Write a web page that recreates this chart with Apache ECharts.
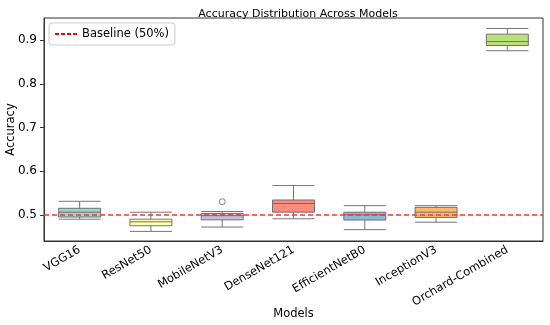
<!DOCTYPE html>
<html><head><meta charset="utf-8">
<script src="https://cdn.jsdelivr.net/npm/echarts@6/dist/echarts.min.js"></script>
<style>html,body{margin:0;padding:0;background:#fff}#c{width:550px;height:325px}</style>
</head><body><div id="c"></div>
<script>
const models = ['VGG16','ResNet50','MobileNetV3','DenseNet121','EfficientNetB0','InceptionV3','Orchard-Combined'];
// [lower whisker, Q1, median, Q3, upper whisker]
const vgg16 = [0.490, 0.495, 0.506, 0.515, 0.531];
const resnet50 = [0.462, 0.475, 0.484, 0.490, 0.506];
const mobilenetv3 = [0.472, 0.4885, 0.498, 0.503, 0.5076];
const densenet121 = [0.491, 0.506, 0.526, 0.534, 0.567];
const efficientnetb0 = [0.466, 0.488, 0.500, 0.506, 0.521];
const inceptionv3 = [0.483, 0.494, 0.506, 0.517, 0.521];
const orchard = [0.876, 0.888, 0.897, 0.914, 0.927];
const outliers = [[2, 0.530]];
const boxColors = ['#8dd3c7','#ffffb3','#bebada','#fb8072','#80b1d3','#fdb462','#b3de69'];
const baseline = 0.5;
const yTicks = [0.5, 0.6, 0.7, 0.8, 0.9];

const boxes = [vgg16, resnet50, mobilenetv3, densenet121, efficientnetb0, inceptionv3, orchard];
const chart = echarts.init(document.getElementById('c'));
const font = 'DejaVu Sans';
chart.setOption({
  animation: false,
  textStyle: {fontFamily: font},
  title: {text: 'Accuracy Distribution Across Models', left: 293, top: 4, textAlign: 'center',
    textStyle: {fontSize: 11, fontWeight: 'normal', color: '#000', fontFamily: font}},
  legend: {left: 49, top: 23, padding: [5, 6], borderColor: '#ccc', borderWidth: 1, borderRadius: 3,
    itemWidth: 22, itemHeight: 10, itemGap: 7,
    textStyle: {fontSize: 11.5, color: '#000', fontFamily: font},
    data: [{name: 'Baseline (50%)', icon: 'path://M0,4 h4 v2 h-4 z M6,4 h4 v2 h-4 z M12,4 h4 v2 h-4 z M18,4 h4 v2 h-4 z', itemStyle: {color: '#ff0000'}}]},
  grid: {left: 44, right: 7, top: 18, bottom: 84, show: true, borderColor: '#333', borderWidth: 1, outerBoundsMode: 'none', containLabel: false},
  xAxis: {type: 'category', data: models, boundaryGap: true,
    name: 'Models', nameLocation: 'middle', nameGap: 67, nameMoveOverlap: false,
    nameTextStyle: {fontSize: 11.5, color: '#000', fontFamily: font},
    axisLine: {lineStyle: {color: '#333'}},
    axisTick: {alignWithLabel: true, lineStyle: {color: '#333'}, length: 4},
    axisLabel: {rotate: 30, fontSize: 11.5, color: '#000', margin: 8, interval: 0, fontFamily: font}},
  yAxis: {type: 'value', min: 0.44, max: 0.951,
    name: 'Accuracy', nameLocation: 'middle', nameGap: 27, nameMoveOverlap: false,
    nameTextStyle: {fontSize: 11.5, color: '#000', fontFamily: font},
    splitLine: {show: false},
    axisLine: {show: true, lineStyle: {color: '#333'}},
    axisTick: {show: true, length: 4, lineStyle: {color: '#333'}, customValues: yTicks},
    axisLabel: {fontSize: 12, color: '#000', margin: 7, fontFamily: font, customValues: yTicks,
      formatter: v => v.toFixed(1)}},
  series: [
    {type: 'boxplot', name: 'box', boxWidth: [42, 42],
      data: boxes.map((b, i) => ({value: b, itemStyle: {color: boxColors[i], borderColor: '#666', borderWidth: 1, opacity: 0.9}})),
      itemStyle: {borderColor: '#666', borderWidth: 1}},
    {type: 'scatter', name: 'outlier', data: outliers, symbol: 'circle', symbolSize: 6, z: 5,
      itemStyle: {color: '#fff', borderColor: '#666', borderWidth: 1}},
    {type: 'line', name: 'Baseline (50%)', data: [], symbol: 'none',
      lineStyle: {color: '#ff0000', type: 'dashed', width: 1.5}, itemStyle: {color: '#ff0000'},
      markLine: {symbol: 'none', silent: true, label: {show: false},
        lineStyle: {color: '#ff3030', type: [5, 3], width: 1.5},
        data: [{yAxis: baseline}]}}
  ]
});
</script></body></html>
